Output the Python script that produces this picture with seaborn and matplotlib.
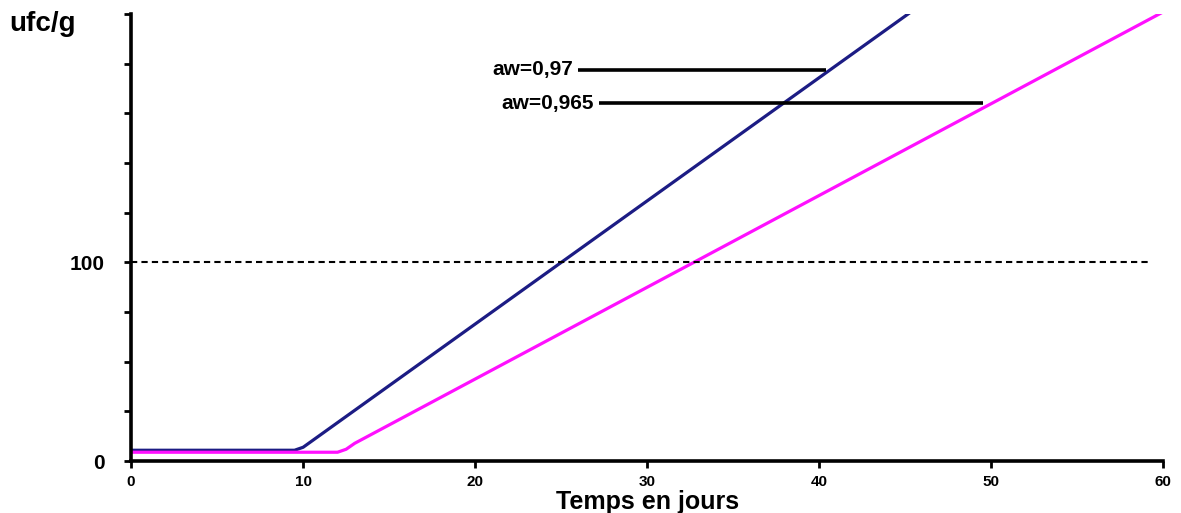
import pandas as pd
import matplotlib
matplotlib.use('Agg')
import matplotlib.pyplot as plt
import seaborn as sns

sns.set_style('white')
plt.rcParams['font.family'] = ['Liberation Sans', 'DejaVu Sans']
plt.rcParams['text.color'] = 'black'

# ---- données ----
jours_097 = [0, 9.5, 10, 45.5]
ufc_097 = [5.5, 5.5, 7, 227]
jours_0965 = [0, 12, 12.5, 13, 60]
ufc_0965 = [4.5, 4.5, 6, 9, 226]
seuil = 100
x_ticks = [0, 10, 20, 30, 40, 50, 60]
y_ticks = [0, 25, 50, 75, 100, 125, 150, 175, 200, 225]
y_labels = ['0', '', '', '', '100', '', '', '', '', '']

# annotations : (texte, x fin du trait, y du trait, x début du trait)
annot = [('aw=0,97', 40.4, 197, 26.0),
         ('aw=0,965', 49.5, 180, 27.2)]

df = pd.concat([
    pd.DataFrame({'jours': jours_097, 'ufc': ufc_097, 'aw': 'aw=0,97'}),
    pd.DataFrame({'jours': jours_0965, 'ufc': ufc_0965, 'aw': 'aw=0,965'}),
])

fig = plt.figure(figsize=(11.81, 5.13), dpi=100)
ax = fig.add_axes([0.111, 0.101, 0.874, 0.872])

sns.lineplot(data=df, x='jours', y='ufc', hue='aw',
             palette={'aw=0,97': '#1c1c84', 'aw=0,965': '#ff10ff'},
             linewidth=2.3, legend=False, ax=ax, sort=False)

ax.axhline(seuil, xmin=0, xmax=59.1 / 60, color='black', ls=(0, (3, 2)), lw=1.5)

for txt, xe, ye, xs in annot:
    ax.plot([xs, xe], [ye, ye], color='black', lw=2.6, solid_capstyle='butt')
    ax.text(xs - 0.3, ye, txt, ha='right', va='center',
            fontsize=15, fontweight='bold')

ax.set_xlim(0, 60)
ax.set_ylim(0, 225)
ax.set_xticks(x_ticks)
ax.set_xticklabels([str(v) for v in x_ticks], fontsize=11, fontweight='bold')
ax.set_yticks(y_ticks)
ax.set_yticklabels(y_labels, fontsize=15, fontweight='bold')
ax.tick_params(axis='both', direction='out', length=5, width=2, color='black',
               labelcolor='black', bottom=True, left=True)
ax.tick_params(axis='x', pad=5)
ax.tick_params(axis='y', pad=14)

for s in ['top', 'right']:
    ax.spines[s].set_visible(False)
for s in ['left', 'bottom']:
    ax.spines[s].set_linewidth(2.6)
    ax.spines[s].set_color('black')

ax.set_xlabel('Temps en jours', fontsize=18, fontweight='bold', labelpad=1,
              color='black')
ax.set_ylabel('')
fig.text(0.008, 0.953, 'ufc/g', fontsize=20, fontweight='bold', va='center')

fig.savefig('out.png', dpi=100)
